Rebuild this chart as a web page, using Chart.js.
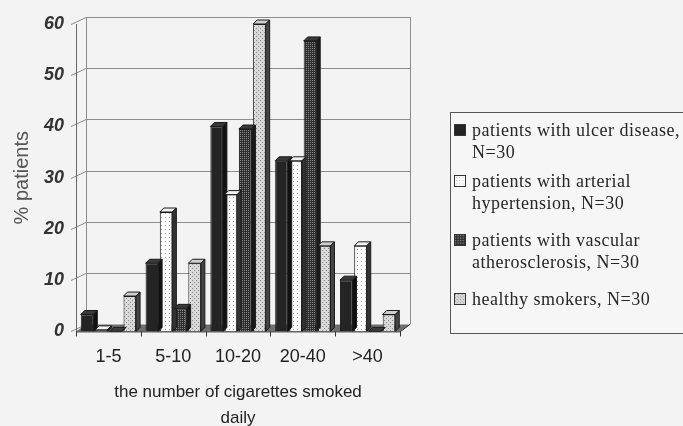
<!DOCTYPE html>
<html>
<head>
<meta charset="utf-8">
<script src="https://cdn.jsdelivr.net/npm/chart.js@4/dist/chart.umd.min.js"></script>
<style>
  html, body { margin: 0; padding: 0; background: #f3f3f3; }
  body { width: 683px; height: 426px; position: relative; overflow: hidden; }
  #wrap { position: absolute; left: 0; top: 0; width: 440px; height: 426px; }
  #legend {
    position: absolute; left: 450px; top: 112px; width: 250px; height: 222px;
    border: 1px solid #555; box-sizing: border-box; background: #f6f6f6;
    font-family: "Liberation Serif", "Times New Roman", serif; font-size: 18px;
    color: #262626; padding: 6px 0 0 3px; letter-spacing: 0.5px;
  }
  .item { display: flex; align-items: flex-start; line-height: 22px; }
  .item canvas { width: 12px; height: 12px; margin: 5px 6px 0 0; flex: none; border: 1px solid #333; box-sizing: border-box; }
</style>
</head>
<body>
<div id="wrap"><canvas id="c"></canvas></div>
<div id="legend"></div>
<script>
const categories = ["1-5", "5-10", "10-20", "20-40", ">40"];
const seriesNames = [
  "patients with ulcer disease, N=30",
  "patients with arterial hypertension, N=30",
  "patients with vascular atherosclerosis, N=30",
  "healthy smokers, N=30"
];
const legendLines = [
  ["patients with ulcer disease,", "N=30"],
  ["patients with arterial", "hypertension, N=30"],
  ["patients with vascular", "atherosclerosis, N=30"],
  ["healthy smokers, N=30"]
];
const ulcer        = [3.3, 13.3, 40.0, 33.3, 10.0];
const hypertension = [0.3, 23.3, 26.7, 33.3, 16.7];
const vascular     = [0,   4.5,  39.5, 56.7, 0];
const healthy      = [6.9, 13.3, 60.0, 16.7, 3.3];
const yTicks = [0, 10, 20, 30, 40, 50, 60];

function makePattern(kind) {
  const p = document.createElement('canvas');
  p.width = 4; p.height = 4;
  const g = p.getContext('2d');
  if (kind === 0) { g.fillStyle = '#242424'; g.fillRect(0,0,4,4); }
  else if (kind === 1) { g.fillStyle = '#fbfbfb'; g.fillRect(0,0,4,4); g.fillStyle = '#aaa'; g.fillRect(1,1,1,1); }
  else if (kind === 2) {
    g.fillStyle = '#2e2e2e'; g.fillRect(0,0,4,4);
    g.fillStyle = '#888'; g.fillRect(0,0,1,1); g.fillRect(2,2,1,1); g.fillRect(2,0,1,1); g.fillRect(0,2,1,1);
  } else {
    g.fillStyle = '#d9d9d9'; g.fillRect(0,0,4,4);
    g.fillStyle = '#8a8a8a'; g.fillRect(0,0,1,1); g.fillRect(2,2,1,1);
  }
  return p;
}
const ctxMain = document.getElementById('c').getContext('2d');
const patterns = [0,1,2,3].map(k => ctxMain.createPattern(makePattern(k), 'repeat'));
const sideColors = ['#111', '#333', '#1a1a1a', '#444'];

const DX = 10, DY = 7, BD = 4;

const backWall = {
  id: 'backWall',
  beforeDatasetsDraw(chart) {
    const { ctx, chartArea: a, scales: { y } } = chart;
    ctx.save();
    const y0 = y.getPixelForValue(0);
    ctx.fillStyle = '#6e6e6e';
    ctx.beginPath();
    ctx.moveTo(a.left, y0); ctx.lineTo(a.left + DX, y0 - DY);
    ctx.lineTo(a.right + DX, y0 - DY); ctx.lineTo(a.right, y0); ctx.closePath(); ctx.fill();
    ctx.strokeStyle = '#8c8c8c'; ctx.lineWidth = 1;
    yTicks.forEach(v => {
      const py = Math.round(y.getPixelForValue(v)) + 0.5;
      ctx.beginPath();
      ctx.moveTo(a.left - 5, py); ctx.lineTo(a.left + DX, py - DY);
      if (v > 0) ctx.lineTo(a.right + DX, py - DY);
      ctx.stroke();
    });
    const top = y.getPixelForValue(60);
    ctx.beginPath();
    ctx.moveTo(a.left + DX + 0.5, top - DY); ctx.lineTo(a.left + DX + 0.5, y0 - DY);
    ctx.moveTo(a.right + DX + 0.5, top - DY); ctx.lineTo(a.right + DX + 0.5, y0 - DY);
    ctx.stroke();
    ctx.strokeStyle = '#666';
    ctx.beginPath();
    ctx.moveTo(a.left + 0.5, top); ctx.lineTo(a.left + 0.5, y0);
    ctx.stroke();
    ctx.restore();
  }
};

const bars3d = {
  id: 'bars3d',
  afterDatasetsDraw(chart) {
    const { ctx } = chart;
    ctx.save();
    chart.data.datasets.forEach((ds, di) => {
      const meta = chart.getDatasetMeta(di);
      meta.data.forEach(bar => {
        const { x, y, base, width } = bar.getProps(['x','y','base','width'], true);
        const l = x - width / 2, r = x + width / 2;
        ctx.strokeStyle = '#1a1a1a'; ctx.lineWidth = 1;
        ctx.fillStyle = di === 1 ? '#f2f2f2' : (di === 3 ? '#cfcfcf' : '#3a3a3a');
        ctx.beginPath();
        ctx.moveTo(l, y); ctx.lineTo(l + BD, y - BD); ctx.lineTo(r + BD, y - BD); ctx.lineTo(r, y); ctx.closePath();
        ctx.fill(); ctx.stroke();
        ctx.fillStyle = sideColors[di];
        ctx.beginPath();
        ctx.moveTo(r, y); ctx.lineTo(r + BD, y - BD); ctx.lineTo(r + BD, base - BD); ctx.lineTo(r, base); ctx.closePath();
        ctx.fill(); ctx.stroke();
      });
    });
    const { chartArea: a, scales: { y: ys } } = chart;
    const y0 = ys.getPixelForValue(0);
    ctx.strokeStyle = '#333';
    ctx.beginPath();
    ctx.moveTo(a.left, y0 + 0.5); ctx.lineTo(a.right, y0 + 0.5);
    ctx.lineTo(a.right + DX, y0 - DY);
    for (let i = 0; i <= categories.length; i++) {
      const px = Math.round(a.left + (a.right - a.left) * i / categories.length) + 0.5;
      ctx.moveTo(px, y0); ctx.lineTo(px, y0 + 5);
    }
    ctx.stroke();
    ctx.restore();
  }
};

const data = {
  labels: categories,
  datasets: [ulcer, hypertension, vascular, healthy].map((vals, i) => ({
    label: seriesNames[i],
    data: vals,
    backgroundColor: patterns[i],
    borderColor: '#1a1a1a',
    borderWidth: 1,
    categoryPercentage: 0.88,
    barPercentage: 0.88
  }))
};

const AR = 'Arial, "Liberation Sans", sans-serif';
new Chart(ctxMain, {
  type: 'bar',
  data,
  plugins: [backWall, bars3d],
  options: {
    responsive: true,
    maintainAspectRatio: false,
    animation: false,
    layout: { padding: { left: 4, right: 40, top: 24, bottom: -5 } },
    plugins: { legend: { display: false }, tooltip: { enabled: false } },
    scales: {
      x: {
        grid: { display: false, drawTicks: false },
        border: { display: false },
        ticks: { color: '#222', font: { family: AR, size: 18 }, padding: 15 },
        title: {
          display: true,
          text: ['the number of cigarettes smoked', 'daily'],
          color: '#222',
          font: { family: AR, size: 17, lineHeight: 1.5 },
          padding: { top: -3, bottom: 0 }
        }
      },
      y: {
        min: 0, max: 60,
        grid: { display: false },
        border: { display: false },
        afterBuildTicks(scale) { scale.ticks = yTicks.map(v => ({ value: v })); },
        ticks: { color: '#333', font: { family: AR, size: 18, weight: 'bold', style: 'italic' }, padding: 4 },
        title: {
          display: true,
          text: '% patients',
          color: '#555',
          font: { family: AR, size: 20 },
          padding: { top: 6, bottom: 6 }
        }
      }
    }
  }
});

const legend = document.getElementById('legend');
const gaps = [7, 15, 15, 0];
legendLines.forEach((lines, i) => {
  const item = document.createElement('div');
  item.className = 'item';
  item.style.marginBottom = gaps[i] + 'px';
  const sw = document.createElement('canvas');
  sw.width = 12; sw.height = 12;
  const g = sw.getContext('2d');
  g.fillStyle = g.createPattern(makePattern(i), 'repeat');
  g.fillRect(0, 0, 12, 12);
  item.appendChild(sw);
  const t = document.createElement('div');
  t.innerHTML = lines.join('<br>');
  item.appendChild(t);
  legend.appendChild(item);
});
</script>
</body>
</html>
